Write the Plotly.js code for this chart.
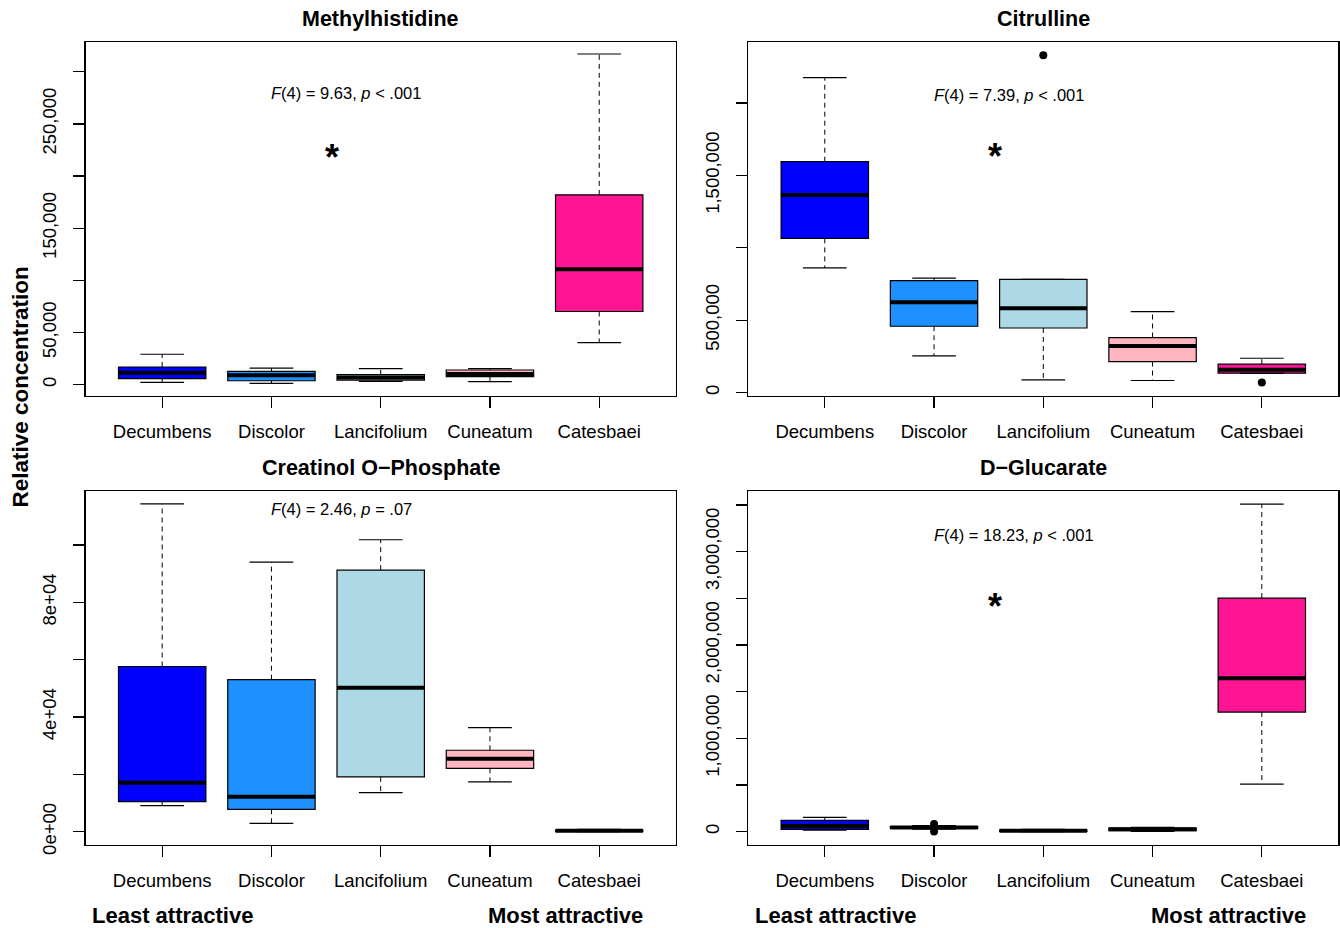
<!DOCTYPE html>
<html>
<head>
<meta charset="utf-8">
<script src="https://cdn.plot.ly/plotly-3.0.1.min.js"></script>
<style>
html,body{margin:0;padding:0;background:#ffffff;}
#chart{width:1340px;height:928px;}
</style>
</head>
<body>
<div id="chart"></div>
<script>
// ---------------- DATA ----------------
const categories = ["Decumbens", "Discolor", "Lancifolium", "Cuneatum", "Catesbaei"];
const panelTitles = ["Methylhistidine", "Citrulline", "Creatinol O\u2212Phosphate", "D\u2212Glucarate"];
const statLabels = [
  "<i>F</i>(4) = 9.63, <i>p</i> &lt; .001",
  "<i>F</i>(4) = 7.39, <i>p</i> &lt; .001",
  "<i>F</i>(4) = 2.46, <i>p</i> = .07",
  "<i>F</i>(4) = 18.23, <i>p</i> &lt; .001"
];
const significant = [true, true, false, true];
const yAxisLabel = "Relative concentration";
const leastLabel = "Least attractive";
const mostLabel = "Most attractive";

// Methylhistidine
const methylLow    = [2200, 1300, 3200, 2900, 40400];
const methylQ1     = [5800, 3800, 4500, 7700, 70200];
const methylMedian = [11500, 9000, 7000, 10300, 110600];
const methylQ3     = [17000, 12800, 9600, 14100, 182000];
const methylHigh   = [29200, 16000, 15400, 15400, 317000];
const methylOutX   = [];
const methylOutY   = [];
const methylTickVals = [0, 50000, 100000, 150000, 200000, 250000, 300000];
const methylTickText = ["0", "50,000", "", "150,000", "", "250,000", ""];

// Citrulline
const citrLow    = [861000, 253000, 87000, 83000, 132000];
const citrQ1     = [1065000, 458000, 446000, 214000, 134000];
const citrMedian = [1364000, 624000, 582000, 322000, 157000];
const citrQ3     = [1595000, 773000, 782000, 380000, 196000];
const citrHigh   = [2176000, 791000, 782000, 559000, 237000];
const citrOutX   = ["Lancifolium", "Catesbaei"];
const citrOutY   = [2331000, 69000];
const citrTickVals = [0, 500000, 1000000, 1500000, 2000000];
const citrTickText = ["0", "500,000", "", "1,500,000", ""];

// Creatinol O-Phosphate
const creatLow    = [9070, 2900, 13600, 17400, 50];
const creatQ1     = [10500, 7800, 19100, 22100, 150];
const creatMedian = [17100, 12200, 50200, 25400, 300];
const creatQ3     = [57600, 53000, 91200, 28400, 500];
const creatHigh   = [114300, 94000, 101800, 36300, 800];
const creatOutX   = [];
const creatOutY   = [];
const creatTickVals = [0, 20000, 40000, 60000, 80000, 100000];
const creatTickText = ["0e+00", "", "4e+04", "", "8e+04", ""];

// D-Glucarate
const glucLow    = [17900, 28600, 1000, 3600, 510700];
const glucQ1     = [25000, 35700, 3600, 10700, 1282000];
const glucMedian = [60700, 46000, 10700, 25000, 1645000];
const glucQ3     = [121000, 53600, 17900, 39000, 2503000];
const glucHigh   = [153600, 64000, 25000, 46000, 3510000];
const glucOutX   = ["Discolor", "Discolor"];
const glucOutY   = [82000, 3000];
const glucTickVals = [0, 500000, 1000000, 1500000, 2000000, 2500000, 3000000, 3500000];
const glucTickText = ["0", "", "1,000,000", "", "2,000,000", "", "3,000,000", ""];

// ---------------- STYLE ----------------
const boxColors = ["#0000FF", "#1E90FF", "#ADD8E6", "#FFB6C1", "#FF1493"];
const FONT = "Liberation Sans, Arial, Helvetica, sans-serif";
const W = 1340, H = 928;
const colPx = [[85.7, 675.7], [748.3, 1338.3]];
const rowPx = [[42, 396], [491, 845]];
const xRange = [0.3, 5.7];
const yRanges = [[-10800, 328500], [-24000, 2422000], [-4640, 118800], [-142500, 3650000]];
const boxWidth = 0.8;
const stapleHalf = 0.2;
const statPos = [[269.3, 92.7], [931.7, 95], [269.3, 509], [931.7, 535]];
const starPos = [[331.7, 151], [995, 150], null, [995, 600]];

const px = v => v / W;
const py = v => 1 - v / H;

const panels = [
  {low: methylLow, q1: methylQ1, med: methylMedian, q3: methylQ3, high: methylHigh, ox: methylOutX, oy: methylOutY, tv: methylTickVals, tt: methylTickText},
  {low: citrLow, q1: citrQ1, med: citrMedian, q3: citrQ3, high: citrHigh, ox: citrOutX, oy: citrOutY, tv: citrTickVals, tt: citrTickText},
  {low: creatLow, q1: creatQ1, med: creatMedian, q3: creatQ3, high: creatHigh, ox: creatOutX, oy: creatOutY, tv: creatTickVals, tt: creatTickText},
  {low: glucLow, q1: glucQ1, med: glucMedian, q3: glucQ3, high: glucHigh, ox: glucOutX, oy: glucOutY, tv: glucTickVals, tt: glucTickText}
];

const traces = [];
const layout = {
  width: W, height: H,
  margin: {l: 0, r: 0, t: 0, b: 0},
  paper_bgcolor: "#ffffff",
  plot_bgcolor: "#ffffff",
  showlegend: false,
  font: {family: FONT, color: "#000000", size: 18.5},
  annotations: []
};

panels.forEach((p, k) => {
  const col = k % 2, row = Math.floor(k / 2);
  const suffix = k === 0 ? "" : String(k + 1);
  const xa = "x" + suffix, ya = "y" + suffix;
  const pos = categories.map((c, i) => i + 1);

  // boxes (body + thin median)
  categories.forEach((c, i) => {
    traces.push({
      type: "box", xaxis: xa, yaxis: ya,
      x: [pos[i]], q1: [p.q1[i]], median: [p.med[i]], q3: [p.q3[i]],
      lowerfence: [p.q1[i]], upperfence: [p.q3[i]],
      width: boxWidth, whiskerwidth: 0, boxpoints: false,
      fillcolor: boxColors[i], line: {color: "#000000", width: 1.2},
      hoverinfo: "skip", showlegend: false
    });
  });

  // dashed whiskers
  const wx = [], wy = [];
  categories.forEach((c, i) => {
    wx.push(pos[i], pos[i], null, pos[i], pos[i], null);
    wy.push(p.q3[i], p.high[i], null, p.q1[i], p.low[i], null);
  });
  traces.push({type: "scatter", mode: "lines", xaxis: xa, yaxis: ya, x: wx, y: wy,
    line: {color: "#000000", width: 1, dash: "5px,4px"}, hoverinfo: "skip", showlegend: false});

  // staples
  const sx = [], sy = [];
  categories.forEach((c, i) => {
    sx.push(pos[i] - stapleHalf, pos[i] + stapleHalf, null, pos[i] - stapleHalf, pos[i] + stapleHalf, null);
    sy.push(p.high[i], p.high[i], null, p.low[i], p.low[i], null);
  });
  traces.push({type: "scatter", mode: "lines", xaxis: xa, yaxis: ya, x: sx, y: sy,
    line: {color: "#000000", width: 1.2}, hoverinfo: "skip", showlegend: false});

  // thick medians
  const mx = [], my = [];
  categories.forEach((c, i) => {
    mx.push(pos[i] - boxWidth / 2, pos[i] + boxWidth / 2, null);
    my.push(p.med[i], p.med[i], null);
  });
  traces.push({type: "scatter", mode: "lines", xaxis: xa, yaxis: ya, x: mx, y: my,
    line: {color: "#000000", width: 4}, hoverinfo: "skip", showlegend: false});

  // outliers
  if (p.ox.length) {
    traces.push({type: "scatter", mode: "markers", xaxis: xa, yaxis: ya,
      x: p.ox.map(c => categories.indexOf(c) + 1), y: p.oy,
      marker: {color: "#000000", size: 8}, hoverinfo: "skip", showlegend: false});
  }

  layout["xaxis" + suffix] = {
    domain: [px(colPx[col][0]), px(colPx[col][1])],
    anchor: ya, range: xRange, tickmode: "array",
    tickvals: pos, ticktext: categories,
    ticks: "outside", ticklen: 11, tickwidth: 1.2, tickcolor: "#000000",
    ticklabelstandoff: 7,
    showline: true, mirror: true, linecolor: "#000000", linewidth: 1.3,
    showgrid: false, zeroline: false, fixedrange: true,
    tickfont: {family: FONT, size: 18.5, color: "#000000"}
  };
  layout["yaxis" + suffix] = {
    domain: [py(rowPx[row][1]), py(rowPx[row][0])],
    anchor: xa, range: yRanges[k], tickmode: "array",
    tickvals: p.tv, ticktext: p.tt, tickangle: -90,
    ticks: "outside", ticklen: 11, tickwidth: 1.2, tickcolor: "#000000",
    ticklabelstandoff: 10,
    showline: true, mirror: true, linecolor: "#000000", linewidth: 1.3,
    showgrid: false, zeroline: false, fixedrange: true,
    tickfont: {family: FONT, size: 18.5, color: "#000000"}
  };

  // panel title
  layout.annotations.push({
    xref: "paper", yref: "paper",
    x: px((colPx[col][0] + colPx[col][1]) / 2), y: py(row === 0 ? 19 : 468),
    xanchor: "center", yanchor: "middle", showarrow: false,
    text: "<b>" + panelTitles[k] + "</b>",
    font: {family: FONT, size: 21.5, color: "#000000"}
  });
  // stat label
  layout.annotations.push({
    xref: "paper", yref: "paper",
    x: px(statPos[k][0]), y: py(statPos[k][1]),
    xanchor: "left", yanchor: "middle", showarrow: false,
    text: statLabels[k],
    font: {family: FONT, size: 16.5, color: "#000000"}
  });
  // significance star
  if (significant[k] && starPos[k]) {
    layout.annotations.push({
      xref: "paper", yref: "paper",
      x: px(starPos[k][0]), y: py(starPos[k][1] + 6),
      xanchor: "center", yanchor: "middle", showarrow: false,
      text: "<b>*</b>",
      font: {family: FONT, size: 36, color: "#000000"}
    });
  }
  // bottom row labels
  if (row === 1) {
    const leftX = col === 0 ? 90 : 753;
    const rightX = col === 0 ? 645 : 1308;
    layout.annotations.push({
      xref: "paper", yref: "paper", x: px(leftX), y: py(915),
      xanchor: "left", yanchor: "middle", showarrow: false,
      text: "<b>" + leastLabel + "</b>", font: {family: FONT, size: 22, color: "#000000"}
    });
    layout.annotations.push({
      xref: "paper", yref: "paper", x: px(rightX), y: py(915),
      xanchor: "right", yanchor: "middle", showarrow: false,
      text: "<b>" + mostLabel + "</b>", font: {family: FONT, size: 22, color: "#000000"}
    });
  }
});

layout.annotations.push({
  xref: "paper", yref: "paper", x: px(20), y: py(387.5),
  xanchor: "center", yanchor: "middle", showarrow: false, textangle: -90,
  text: "<b>" + yAxisLabel + "</b>",
  font: {family: FONT, size: 22.5, color: "#000000"}
});

Plotly.newPlot("chart", traces, layout, {staticPlot: true, displayModeBar: false});
</script>
</body>
</html>
